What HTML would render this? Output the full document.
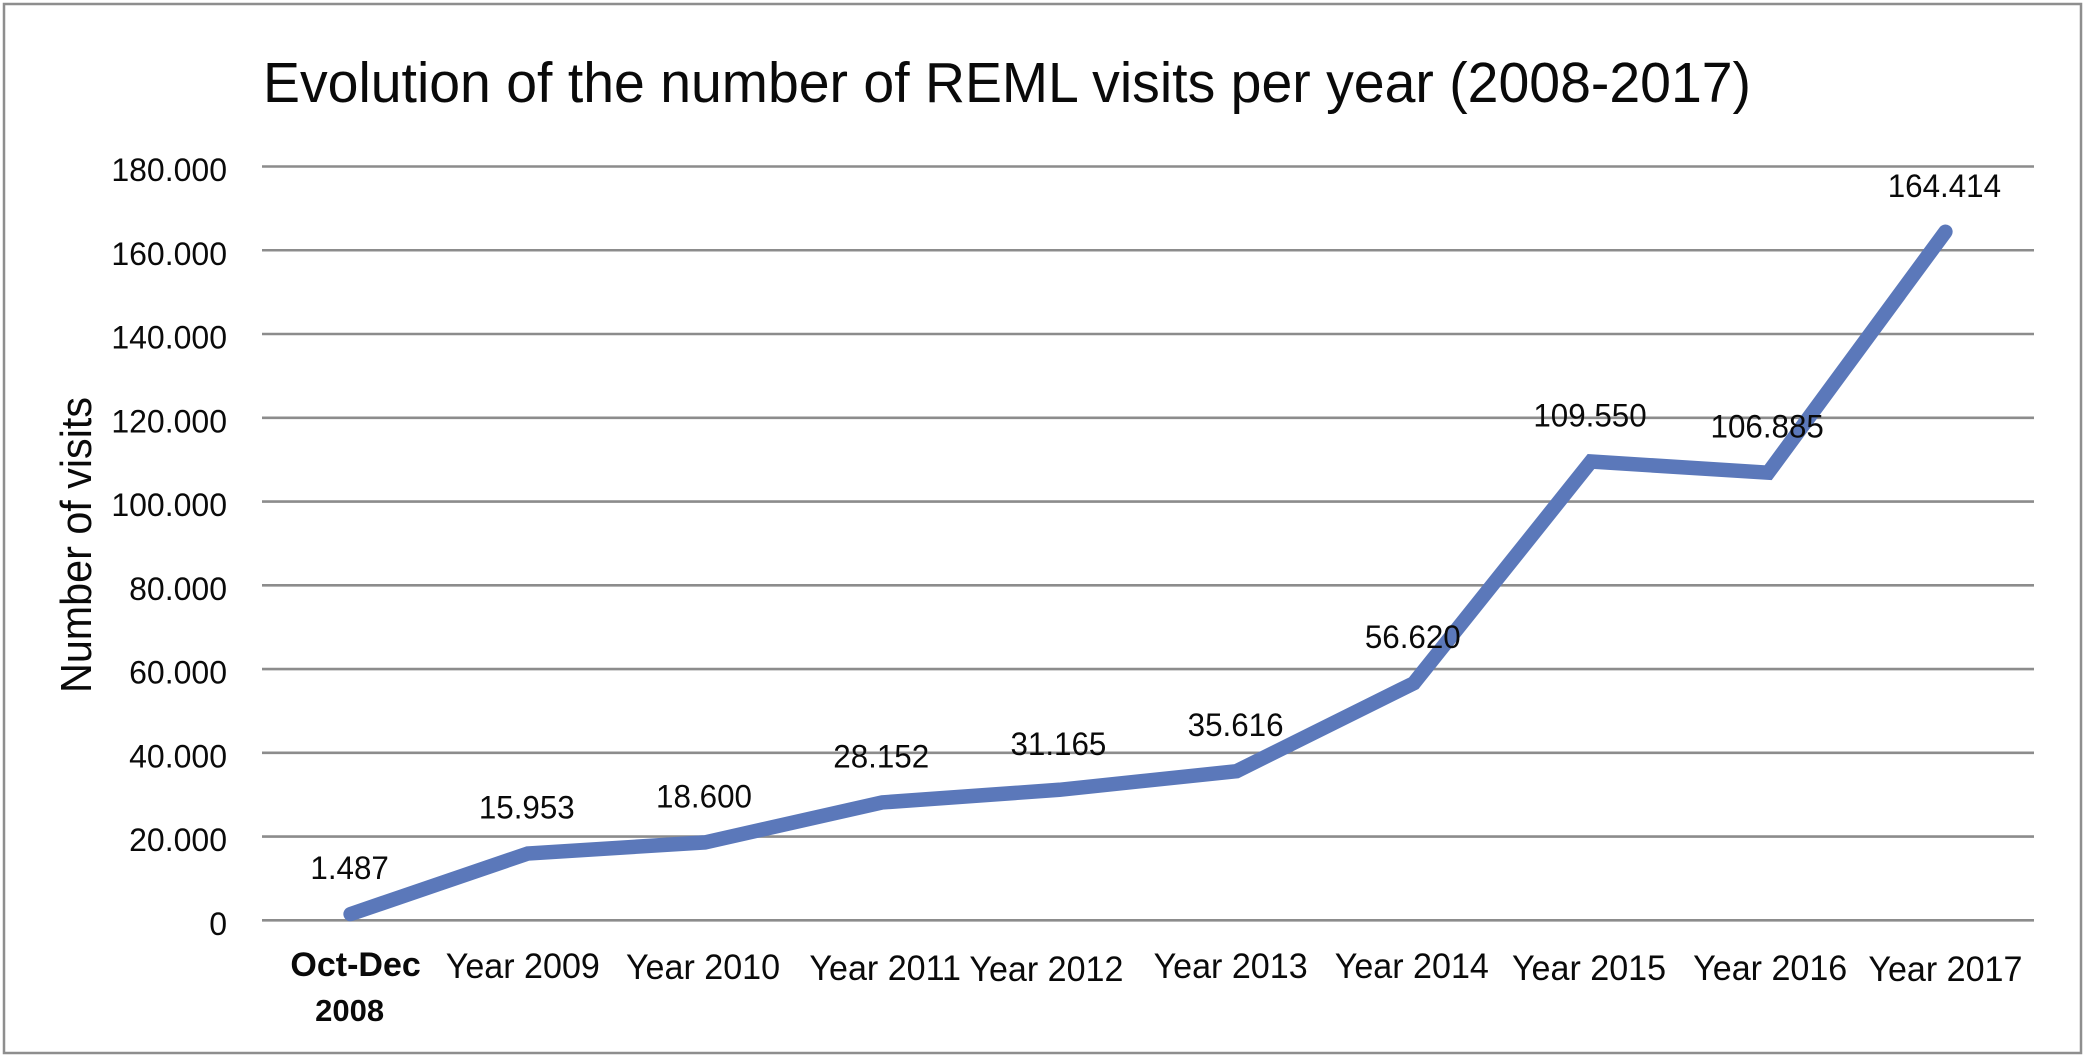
<!DOCTYPE html>
<html lang="en">
<head>
<meta charset="utf-8">
<title>Evolution of the number of REML visits per year (2008-2017)</title>
<style>
  html, body { margin: 0; padding: 0; background: #fff; }
  svg { display: block; }
  text { font-family: "Liberation Sans", Arial, sans-serif; fill: #0a0a0a; }
</style>
</head>
<body>
<svg id="chart" xmlns="http://www.w3.org/2000/svg" width="2083" height="1058" viewBox="0 0 2083 1058">
  <rect x="4" y="4" width="2077" height="1049" fill="#fff" stroke="#8e8e8e" stroke-width="2.5"/>
  <text x="263" y="102" font-size="57" textLength="1488" lengthAdjust="spacingAndGlyphs">Evolution of the number of REML visits per year (2008-2017)</text>
  <text transform="translate(91,693) rotate(-90)" font-size="44" textLength="296" lengthAdjust="spacingAndGlyphs">Number of visits</text>
  <g id="grid"></g>
  <g id="yticks"></g>
  <g id="xticks"></g>
  <g id="series"></g>
  <g id="labels"></g>
</svg>
<script>
const categories = ['Oct-Dec 2008', 'Year 2009', 'Year 2010', 'Year 2011', 'Year 2012', 'Year 2013', 'Year 2014', 'Year 2015', 'Year 2016', 'Year 2017'];
const visits = [1487, 15953, 18600, 28152, 31165, 35616, 56620, 109550, 106885, 164414];
const visitLabels = ['1.487', '15.953', '18.600', '28.152', '31.165', '35.616', '56.620', '109.550', '106.885', '164.414'];
const yTicks = [0, 20000, 40000, 60000, 80000, 100000, 120000, 140000, 160000, 180000];
const yTickLabels = ['0', '20.000', '40.000', '60.000', '80.000', '100.000', '120.000', '140.000', '160.000', '180.000'];

const NS = 'http://www.w3.org/2000/svg';
const plot = { left: 262, right: 2034, top: 166.5, bottom: 920.3 };
const yMax = 180000;
function xScale(i) { return plot.left + (plot.right - plot.left) * (i + 0.5) / categories.length; }
function yScale(v) { return plot.bottom - (plot.bottom - plot.top) * v / yMax; }
function slug(s) { return s.toLowerCase().replace(/[^a-z0-9]+/g, '-'); }

function addText(parent, str, x, y, size, sx, anchor, weight) {
  const t = document.createElementNS(NS, 'text');
  t.textContent = str;
  t.setAttribute('transform', 'translate(' + x + ',' + y + ') scale(' + sx + ',1)');
  t.setAttribute('font-size', size);
  t.setAttribute('text-anchor', anchor);
  if (weight) t.setAttribute('font-weight', weight);
  parent.appendChild(t);
  return t;
}

const gridG = document.getElementById('grid');
const yTickG = document.getElementById('yticks');
yTicks.forEach(function (v, i) {
  const l = document.createElementNS(NS, 'line');
  
  
  l.setAttribute('x1', plot.left);
  l.setAttribute('x2', plot.right);
  l.setAttribute('y1', yScale(v));
  l.setAttribute('y2', yScale(v));
  l.setAttribute('stroke', '#8c8c8c');
  l.setAttribute('stroke-width', '2.6');
  gridG.appendChild(l);
  const t = addText(yTickG, yTickLabels[i], 227, yScale(v) + 14.5, 32, 1.0, 'end');
  
  
});

/* small hand-placement offsets of the category captions, as in the source figure */
const captionShiftX = [0, -5, -2, 3, -13, -6, -2, -2, 2, 0];
const captionShiftY = [0, 978, 979, 980, 981, 978, 978, 980, 980, 981];
const xTickG = document.getElementById('xticks');
categories.forEach(function (c, i) {
  if (i === 0) {
    const parts = ['Oct-Dec', '2008'];
    const a = addText(xTickG, parts[0], xScale(0) + 5, 976, 34, 1.0, 'middle', 'bold');
    
    
    const b = addText(xTickG, parts[1], xScale(0) - 1, 1021, 31, 1.0, 'middle', 'bold');
    
    
  } else {
    const t = addText(xTickG, c, xScale(i) + captionShiftX[i], captionShiftY[i], 35.5, 0.96, 'middle');
    
    
  }
});

const seriesG = document.getElementById('series');
const line = document.createElementNS(NS, 'polyline');


line.setAttribute('points', visits.map(function (v, i) { return xScale(i) + ',' + yScale(v); }).join(' '));
line.setAttribute('fill', 'none');
line.setAttribute('stroke', '#5b78ba');
line.setAttribute('stroke-width', '14.5');
line.setAttribute('stroke-linecap', 'round');
line.setAttribute('stroke-linejoin', 'miter');
seriesG.appendChild(line);

const labelG = document.getElementById('labels');
visits.forEach(function (v, i) {
  const t = addText(labelG, visitLabels[i], xScale(i) - 1, yScale(v) - 35, 32, 0.98, 'middle');
  
  
});
</script>
</body>
</html>
